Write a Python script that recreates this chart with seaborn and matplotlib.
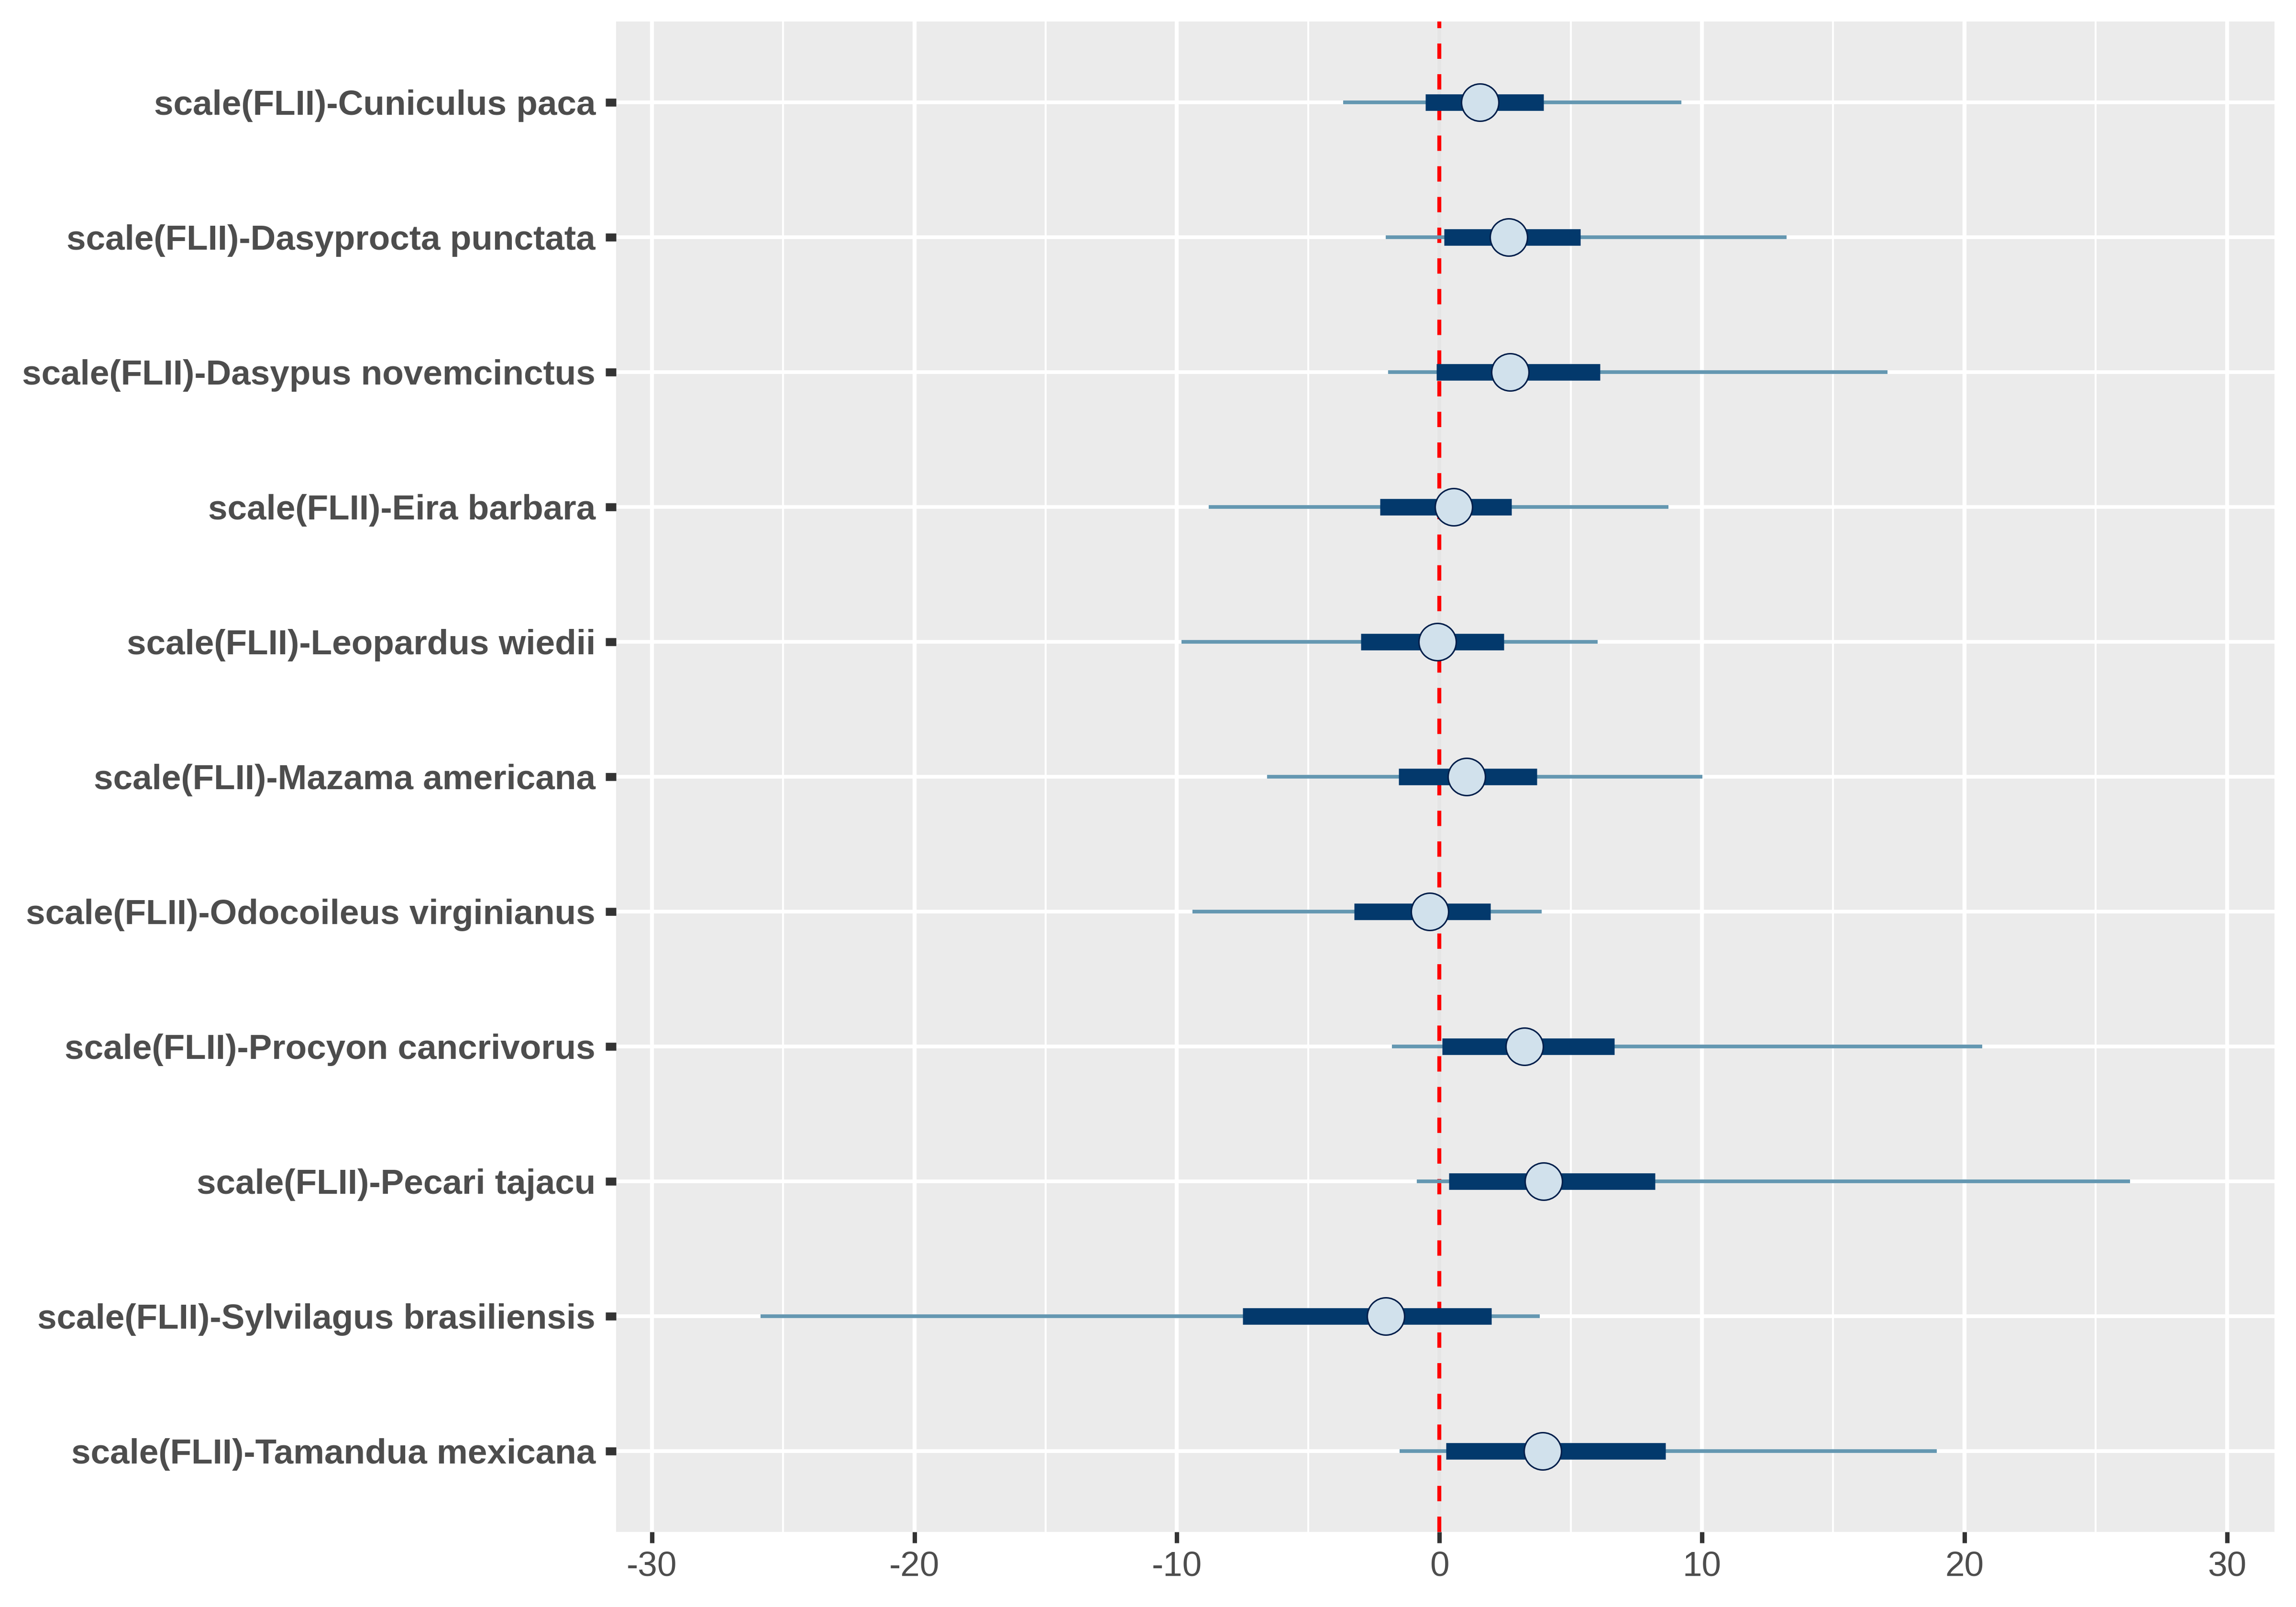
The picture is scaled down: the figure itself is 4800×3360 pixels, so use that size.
import numpy as np
import pandas as pd
import matplotlib
matplotlib.use("Agg")
import matplotlib.pyplot as plt
import seaborn as sns

# parameters, top to bottom
params = [
    "scale(FLII)-Cuniculus paca",
    "scale(FLII)-Dasyprocta punctata",
    "scale(FLII)-Dasypus novemcinctus",
    "scale(FLII)-Eira barbara",
    "scale(FLII)-Leopardus wiedii",
    "scale(FLII)-Mazama americana",
    "scale(FLII)-Odocoileus virginianus",
    "scale(FLII)-Procyon cancrivorus",
    "scale(FLII)-Pecari tajacu",
    "scale(FLII)-Sylvilagus brasiliensis",
    "scale(FLII)-Tamandua mexicana",
]
# outer interval (thin line)
outer_lo = [-3.67, -2.05, -1.95, -8.79, -9.83, -6.56, -9.40, -1.80, -0.86, -25.86, -1.51]
outer_hi = [9.22, 13.22, 17.07, 8.72, 6.02, 10.01, 3.89, 20.68, 26.30, 3.82, 18.95]
# inner interval (thick bar)
inner_lo = [-0.54, 0.18, -0.11, -2.27, -2.99, -1.55, -3.24, 0.11, 0.36, -7.49, 0.25]
inner_hi = [3.96, 5.37, 6.12, 2.74, 2.45, 3.71, 1.95, 6.66, 8.21, 1.98, 8.61]
# point estimate
point = [1.55, 2.63, 2.70, 0.54, -0.07, 1.04, -0.36, 3.24, 3.96, -2.05, 3.93]

df = pd.DataFrame({
    "param": params,
    "pos": np.arange(len(params)),
    "outer_lo": outer_lo, "outer_hi": outer_hi,
    "inner_lo": inner_lo, "inner_hi": inner_hi,
    "point": point,
})

sns.set_theme(style="darkgrid", rc={
    "axes.facecolor": "#EBEBEB",
    "grid.color": "white",
    "axes.edgecolor": "none",
})
plt.rcParams['font.family'] = ['Liberation Sans', 'DejaVu Sans']

fig = plt.figure(figsize=(16, 11.2), dpi=300)
ax = fig.add_axes([0.2684, 0.0467, 0.7222, 0.9400])

# grid
ax.set_xticks([-30, -20, -10, 0, 10, 20, 30])
ax.set_xticks([-25, -15, -5, 5, 15, 25], minor=True)
ax.grid(which="major", axis="x", color="white", linewidth=2.0)
ax.grid(which="minor", axis="x", color="white", linewidth=1.0)
ax.grid(which="major", axis="y", color="white", linewidth=1.85)

# reference line at 0
ax.axvline(0, color="#E5E5E5", linewidth=2.0, zorder=1.5)
ax.axvline(0, color="red", linewidth=2.0, linestyle=(0, (3.85, 3.85)), zorder=1.6)

# intervals
ax.hlines(df["pos"], df["outer_lo"], df["outer_hi"], color="#6497b1",
          linewidth=1.85, capstyle="butt", zorder=2)
ax.hlines(df["pos"], df["inner_lo"], df["inner_hi"], color="#03396c",
          linewidth=8.3, capstyle="butt", zorder=3)
sns.scatterplot(data=df, x="point", y="pos", ax=ax, s=350, color="#d1e1ec",
                edgecolor="#011f4b", linewidth=0.75, zorder=4, legend=False)

ax.set_xlim(-31.36, 31.81)
ax.set_ylim(len(params) - 1 + 0.6, -0.6)
ax.set_yticks(df["pos"])
ax.set_yticklabels(params, fontweight="bold", fontsize=17.5, color="#4D4D4D")
ax.set_xticklabels(["-30", "-20", "-10", "0", "10", "20", "30"], fontsize=17.5, color="#4D4D4D")
ax.tick_params(axis="y", which="major", length=5.4, width=4, color="#333333", pad=5, left=True)
ax.tick_params(axis="x", which="major", length=5.4, width=2.2, color="#333333", pad=4, bottom=True)
ax.tick_params(axis="x", which="minor", length=0)
ax.set_xlabel("")
ax.set_ylabel("")
for s in ax.spines.values():
    s.set_visible(False)

fig.savefig("out.png", dpi=300)
